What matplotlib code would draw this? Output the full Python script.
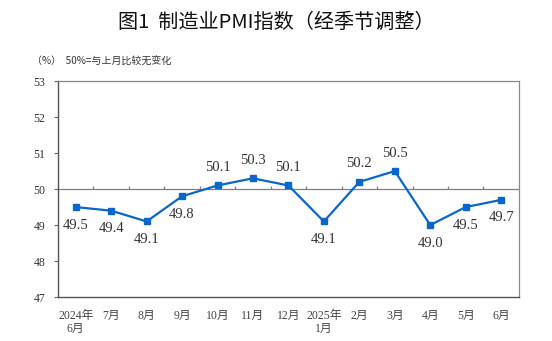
import matplotlib.pyplot as plt
import numpy as np

months = ['2024年\n6月', '7月', '8月', '9月', '10月', '11月', '12月',
          '2025年\n1月', '2月', '3月', '4月', '5月', '6月']
pmi = [49.5, 49.4, 49.1, 49.8, 50.1, 50.3, 50.1, 49.1, 50.2, 50.5, 49.0, 49.5, 49.7]
label_above = [False, False, False, False, True, True, True, False, True, True, False, False, False]
yticks = [47, 48, 49, 50, 51, 52, 53]

cjk = ['Noto Sans CJK SC', 'DejaVu Sans']
serif_cjk = ['Liberation Serif', 'Noto Sans CJK SC']

fig = plt.figure(figsize=(5.52, 3.41), dpi=100)
ax = fig.add_axes([0.105, 0.129, 0.835, 0.633])

x = np.arange(len(pmi))
blue = '#0a66c8'
ax.plot(x, pmi, color=blue, lw=1.6, marker='s', markersize=4.5, zorder=3)

for xi, v, up in zip(x, pmi, label_above):
    ax.annotate(f'{v:.1f}', (xi, v), xytext=(0, 13 if up else -13),
                textcoords='offset points', ha='center', va='center',
                fontsize=10.5, color='#333333', family='Liberation Serif')

# 50 reference line with tick marks between months
ax.axhline(50, color='#808080', lw=0.9, zorder=2)
ax.vlines(x[:-1] + 0.5, 50, 50.08, color='#808080', lw=0.9, zorder=2)

ax.set_xlim(-0.5, len(pmi) - 0.5)
ax.set_ylim(47, 53)
ax.set_yticks(yticks)
ax.set_yticklabels([str(t) for t in yticks], family='Liberation Serif', fontsize=8.5, color='#333333')
ax.tick_params(axis='y', direction='out', length=3, width=0.8, color='#666666', pad=6)
ax.set_xticks(x)
ax.set_xticklabels(months, family=serif_cjk, fontsize=8.5, color='#444444', linespacing=1.2)
ax.tick_params(axis='x', length=0, pad=9)
for t in ax.get_xticklabels():
    t.set_verticalalignment('top')

for side in ['left', 'bottom']:
    ax.spines[side].set_color('#555555')
    ax.spines[side].set_linewidth(1.0)
for side in ['top', 'right']:
    ax.spines[side].set_color('#888888')
    ax.spines[side].set_linewidth(0.9)

fig.text(0.5, 0.935, '图1  制造业PMI指数（经季节调整）', ha='center', va='center',
         fontsize=14.5, family=cjk, weight='medium', color='#111111')
fig.text(0.058, 0.818, '（%）  50%=与上月比较无变化', ha='left', va='center',
         fontsize=7.2, family=cjk, color='#333333')

fig.savefig('out.png', dpi=100)
